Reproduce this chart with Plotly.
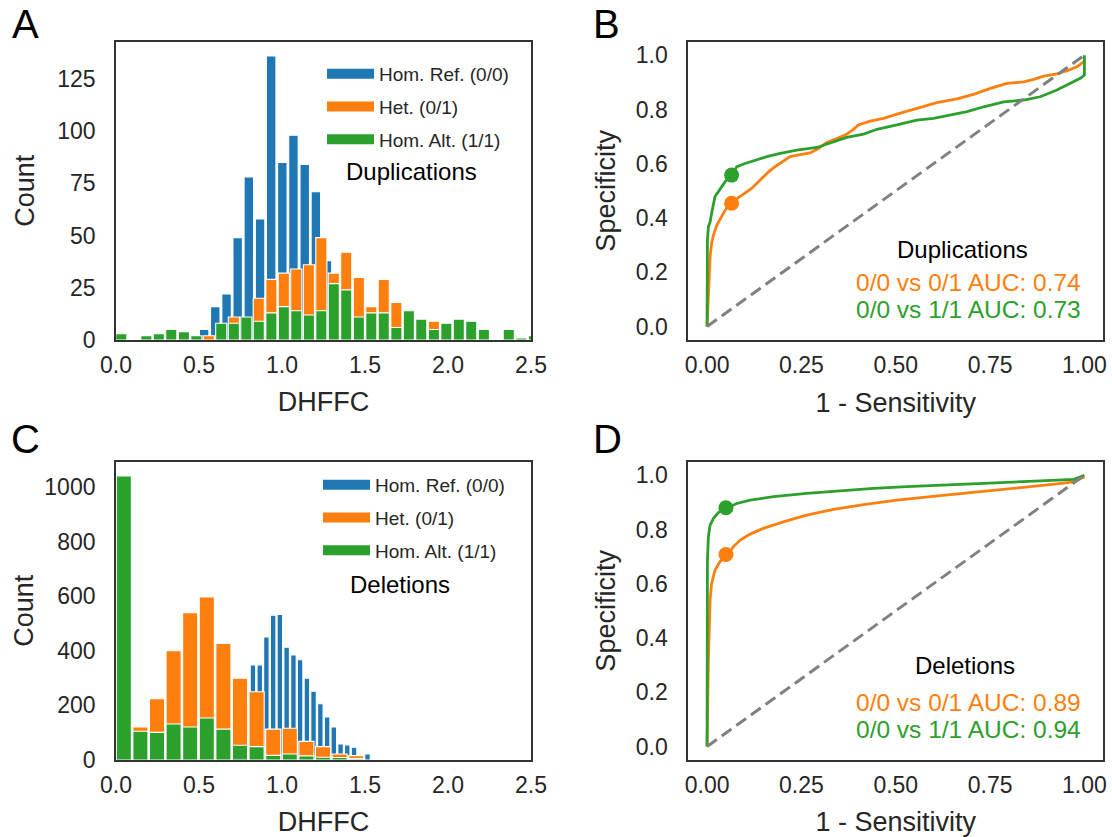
import plotly.graph_objects as go

W, H = 1112, 837
BLUE, ORANGE, GREEN, GRAY = "#1f77b4", "#ff7f0e", "#2ca02c", "#808080"
FONT = "Liberation Sans, Arial, sans-serif"
TXT = "#262626"

# ---------------- Panel A: Duplications histogram (bin centres, counts) ----------------
dup_ref_x = [0.531, 0.598, 0.666, 0.733, 0.800, 0.868, 0.935, 1.002, 1.069, 1.137, 1.204, 1.271]
dup_ref_y = [5, 16, 22, 49, 78, 58, 136, 85, 98, 84, 71, 38]

dup_het_x = [0.559, 0.710, 0.860, 0.936, 1.011, 1.086, 1.162, 1.237, 1.312, 1.387, 1.463, 1.538,
             1.613, 1.689, 1.915]
dup_het_y = [2, 11, 20, 29, 32, 34, 36, 49, 32, 42, 30, 16, 29, 18, 9]

dup_alt_x = [0.032, 0.183, 0.258, 0.333, 0.409, 0.484, 0.634, 0.710, 0.785, 0.860, 0.936, 1.011,
             1.086, 1.162, 1.237, 1.312, 1.387, 1.463, 1.538, 1.613, 1.689, 1.764, 1.839, 1.915,
             1.990, 2.065, 2.140, 2.216, 2.366, 2.442, 2.517]
dup_alt_y = [3, 2, 3, 5, 4, 2, 8, 8, 11, 9, 13, 16, 14, 12, 14, 27, 24, 11, 13, 13, 6, 14, 10, 5,
             8, 10, 9, 5, 5, 1, 2]

# ---------------- Panel C: Deletions histogram ----------------
del_ref_x = [0.825, 0.866, 0.906, 0.947, 0.987, 1.028, 1.069, 1.109, 1.150, 1.190, 1.231, 1.272,
             1.312, 1.353, 1.393, 1.434, 1.515]
del_ref_y = [348, 348, 450, 530, 533, 413, 385, 367, 299, 252, 206, 158, 121, 59, 55, 47, 22]

del_het_x = [0.147, 0.247, 0.347, 0.447, 0.547, 0.647, 0.747, 0.847, 0.947, 1.047, 1.147, 1.247,
             1.347, 1.447]
del_het_y = [121, 224, 400, 539, 597, 427, 299, 250, 113, 116, 68, 49, 22, 16]

del_alt_x = [0.047, 0.147, 0.247, 0.347, 0.447, 0.547, 0.647, 0.747, 0.847, 0.947, 1.047, 1.147,
             1.247, 1.347, 1.447]
del_alt_y = [1040, 105, 101, 132, 121, 154, 113, 54, 49, 17, 22, 15, 10, 9, 5]

# ---------------- Panel B: Duplications ROC (1 - sensitivity, specificity) ----------------
dup_het_roc = [(0, 0), (0.0035, 0.122), (0.005, 0.196), (0.008, 0.257), (0.012, 0.306),
               (0.017, 0.337), (0.026, 0.374), (0.034, 0.395), (0.043, 0.417), (0.054, 0.441),
               (0.065, 0.456), (0.083, 0.475), (0.101, 0.491), (0.118, 0.509), (0.132, 0.528),
               (0.145, 0.546), (0.163, 0.570), (0.180, 0.589), (0.198, 0.607), (0.220, 0.626),
               (0.247, 0.634), (0.273, 0.640), (0.295, 0.656), (0.317, 0.678), (0.344, 0.693),
               (0.370, 0.709), (0.388, 0.727), (0.401, 0.743), (0.432, 0.757), (0.468, 0.767),
               (0.503, 0.783), (0.556, 0.804), (0.609, 0.825), (0.662, 0.839), (0.706, 0.856),
               (0.751, 0.878), (0.795, 0.896), (0.839, 0.902), (0.866, 0.911), (0.892, 0.923),
               (0.927, 0.931), (0.954, 0.943), (0.981, 0.958), (0.998, 0.976), (1.0, 0.980)]
dup_alt_roc = [(0, 0), (0.001, 0.319), (0.0035, 0.368), (0.008, 0.385), (0.012, 0.417),
               (0.021, 0.479), (0.030, 0.497), (0.039, 0.515), (0.048, 0.534), (0.065, 0.558),
               (0.079, 0.589), (0.097, 0.599), (0.123, 0.611), (0.158, 0.626), (0.194, 0.638),
               (0.238, 0.650), (0.291, 0.660), (0.335, 0.681), (0.370, 0.697), (0.415, 0.709),
               (0.450, 0.727), (0.503, 0.743), (0.556, 0.761), (0.600, 0.767), (0.645, 0.779),
               (0.689, 0.792), (0.733, 0.810), (0.786, 0.828), (0.839, 0.835), (0.883, 0.847),
               (0.927, 0.872), (0.963, 0.896), (0.989, 0.915), (1.0, 0.927), (1.0, 1.0)]
dup_het_point = (0.065, 0.454)
dup_alt_point = (0.065, 0.558)
dup_auc = {"het": "0.74", "alt": "0.73"}

# ---------------- Panel D: Deletions ROC ----------------
del_het_roc = [(0, 0), (0.0035, 0.319), (0.008, 0.540), (0.012, 0.601), (0.021, 0.650),
               (0.034, 0.681), (0.054, 0.706), (0.070, 0.737), (0.088, 0.761), (0.114, 0.783),
               (0.149, 0.804), (0.202, 0.828), (0.264, 0.853), (0.335, 0.874), (0.415, 0.892),
               (0.503, 0.908), (0.592, 0.921), (0.680, 0.933), (0.768, 0.945), (0.857, 0.958),
               (0.927, 0.968), (0.972, 0.976), (1.0, 0.995)]
del_alt_roc = [(0, 0), (0.001, 0.688), (0.0035, 0.773), (0.008, 0.816), (0.017, 0.841),
               (0.030, 0.862), (0.043, 0.874), (0.054, 0.880), (0.079, 0.896), (0.114, 0.908),
               (0.176, 0.921), (0.264, 0.933), (0.353, 0.943), (0.441, 0.952), (0.530, 0.958),
               (0.618, 0.964), (0.706, 0.970), (0.795, 0.974), (0.883, 0.979), (0.972, 0.985),
               (1.0, 1.0)]
del_het_point = (0.05, 0.708)
del_alt_point = (0.05, 0.880)
del_auc = {"het": "0.89", "alt": "0.94"}

chance = [0, 1]
genotype_names = ["Hom. Ref. (0/0)", "Het. (0/1)", "Hom. Alt. (1/1)"]


def X(px):
    return px / W


def Y(py):
    return 1 - py / H


fig = go.Figure()

# ---- histogram bars ----
def add_bars(xs, ys, color, width, xa, ya):
    fig.add_trace(go.Bar(x=xs, y=ys, width=width, marker=dict(color=color, line=dict(color="white", width=1.1)),
                         xaxis=xa, yaxis=ya, showlegend=False, hoverinfo="x+y"))

add_bars(dup_ref_x, dup_ref_y, BLUE, 0.057, "x", "y")
add_bars(dup_het_x, dup_het_y, ORANGE, 0.067, "x", "y")
add_bars(dup_alt_x, dup_alt_y, GREEN, 0.067, "x", "y")

add_bars(del_ref_x, del_ref_y, BLUE, 0.033, "x3", "y3")
add_bars(del_het_x, del_het_y, ORANGE, 0.091, "x3", "y3")
add_bars(del_alt_x, del_alt_y, GREEN, 0.091, "x3", "y3")

# legend entries (thick line swatches mimic the matplotlib patches)
for leg, xa, ya in (("legend", "x", "y"), ("legend2", "x3", "y3")):
    for i, (nm, col) in enumerate(zip(genotype_names, (BLUE, ORANGE, GREEN))):
        fig.add_trace(go.Scatter(x=[None], y=[None], mode="lines", name=nm,
                                 line=dict(color=col, width=14), legend=leg,
                                 legendgroup=f"{leg}{i}", xaxis=xa, yaxis=ya))

# ---- ROC curves ----
def add_roc(roc, color, xa, ya):
    fig.add_trace(go.Scatter(x=[p[0] for p in roc], y=[p[1] for p in roc], mode="lines",
                             line=dict(color=color, width=2.8), xaxis=xa, yaxis=ya, showlegend=False))

def add_point(pt, color, xa, ya):
    fig.add_trace(go.Scatter(x=[pt[0]], y=[pt[1]], mode="markers",
                             marker=dict(color=color, size=15), xaxis=xa, yaxis=ya, showlegend=False))

for xa, ya, het, alt, hp, ap in (("x2", "y2", dup_het_roc, dup_alt_roc, dup_het_point, dup_alt_point),
                                 ("x4", "y4", del_het_roc, del_alt_roc, del_het_point, del_alt_point)):
    add_roc(het, ORANGE, xa, ya)
    add_roc(alt, GREEN, xa, ya)
    fig.add_trace(go.Scatter(x=chance, y=chance, mode="lines",
                             line=dict(color=GRAY, width=3, dash="12px,6px"),
                             xaxis=xa, yaxis=ya, showlegend=False))
    add_point(hp, ORANGE, xa, ya)
    add_point(ap, GREEN, xa, ya)

# ---- axes ----
xa_dom_left = [116 / W, 531 / W]
xa_dom_right = [688.2 / W, 1103.3 / W]
ya_dom_top = [1 - 340 / H, 1 - 41.7 / H]
ya_dom_bot = [1 - 760 / H, 1 - 461.7 / H]

common = dict(showline=True, mirror=True, linecolor="#333333", linewidth=1.8, showgrid=False,
              zeroline=False, ticks="outside", tickcolor="rgba(0,0,0,0)", automargin=False,
              tickfont=dict(family=FONT, size=23, color=TXT),
              title_font=dict(family=FONT, size=27, color=TXT))
cx = dict(common, ticklen=3)
cy = dict(common, ticklen=14)

hist_x = dict(cx, range=[0, 2.5], tickvals=[0, 0.5, 1.0, 1.5, 2.0, 2.5], tickformat=".1f",
              title=dict(text="DHFFC", standoff=16))
roc_x = dict(cx, range=[-0.05, 1.05], tickvals=[0, 0.25, 0.5, 0.75, 1.0], tickformat=".2f",
             title=dict(text="1 - Sensitivity", standoff=17))
roc_y = dict(cy, range=[-0.05, 1.05], tickvals=[0, 0.2, 0.4, 0.6, 0.8, 1.0], tickformat=".1f",
             title=dict(text="Specificity", standoff=12))

fig.update_layout(
    width=W, height=H, margin=dict(l=0, r=0, t=0, b=0, autoexpand=False),
    paper_bgcolor="white", plot_bgcolor="white", barmode="overlay",
    font=dict(family=FONT, color=TXT),
    xaxis=dict(hist_x, domain=xa_dom_left, anchor="y"),
    yaxis=dict(cy, domain=ya_dom_top, anchor="x", range=[0, 142.8],
               tickvals=[0, 25, 50, 75, 100, 125], title=dict(text="Count", standoff=15)),
    xaxis2=dict(roc_x, domain=xa_dom_right, anchor="y2"),
    yaxis2=dict(roc_y, domain=ya_dom_top, anchor="x2"),
    xaxis3=dict(hist_x, domain=xa_dom_left, anchor="y3"),
    yaxis3=dict(cy, domain=ya_dom_bot, anchor="x3", range=[0, 1092],
                tickvals=[0, 200, 400, 600, 800, 1000], title=dict(text="Count", standoff=3)),
    xaxis4=dict(roc_x, domain=xa_dom_right, anchor="y4"),
    yaxis4=dict(roc_y, domain=ya_dom_bot, anchor="x4"),
    legend=dict(x=X(322), y=Y(55), xanchor="left", yanchor="top", bgcolor="rgba(0,0,0,0)",
                font=dict(family=FONT, size=19, color=TXT), tracegroupgap=5, itemwidth=47),
    legend2=dict(x=X(318), y=Y(466), xanchor="left", yanchor="top", bgcolor="rgba(0,0,0,0)",
                 font=dict(family=FONT, size=19, color=TXT), tracegroupgap=5, itemwidth=47),
)

ann = []
for letter, (px, py) in zip("ABCD", ((25, 24), (606, 24), (25, 439), (607, 439))):
    ann.append(dict(text=letter, x=X(px), y=Y(py), xref="paper", yref="paper", showarrow=False,
                    xanchor="center", yanchor="middle", font=dict(family=FONT, size=40, color="black")))

ann.append(dict(text="Duplications", x=X(411), y=Y(172), xref="paper", yref="paper", showarrow=False,
                xanchor="center", yanchor="middle", font=dict(family=FONT, size=24, color="black")))
ann.append(dict(text="Deletions", x=X(400), y=Y(584), xref="paper", yref="paper", showarrow=False,
                xanchor="center", yanchor="middle", font=dict(family=FONT, size=24, color="black")))

for title, auc, dy, ty, cxp in (("Duplications", dup_auc, 0, 249, 962), ("Deletions", del_auc, 420, 665, 965)):
    ann.append(dict(text=title, x=X(cxp), y=Y(ty), xref="paper", yref="paper", showarrow=False,
                    xanchor="center", yanchor="middle", font=dict(family=FONT, size=24, color="black")))
    ann.append(dict(text=f"0/0 vs 0/1 AUC: {auc['het']}", x=X(1083), y=Y(282 + dy), xref="paper",
                    yref="paper", showarrow=False, xanchor="right", yanchor="middle",
                    font=dict(family=FONT, size=24.5, color=ORANGE)))
    ann.append(dict(text=f"0/0 vs 1/1 AUC: {auc['alt']}", x=X(1083), y=Y(309 + dy), xref="paper",
                    yref="paper", showarrow=False, xanchor="right", yanchor="middle",
                    font=dict(family=FONT, size=24.5, color=GREEN)))

fig.update_layout(annotations=ann)
# remove the browser's default 8px page margin so the figure sits at the window's corner
fig.write_html("out.html", config={"displayModeBar": False},
               post_script="document.body.style.margin='0';")
